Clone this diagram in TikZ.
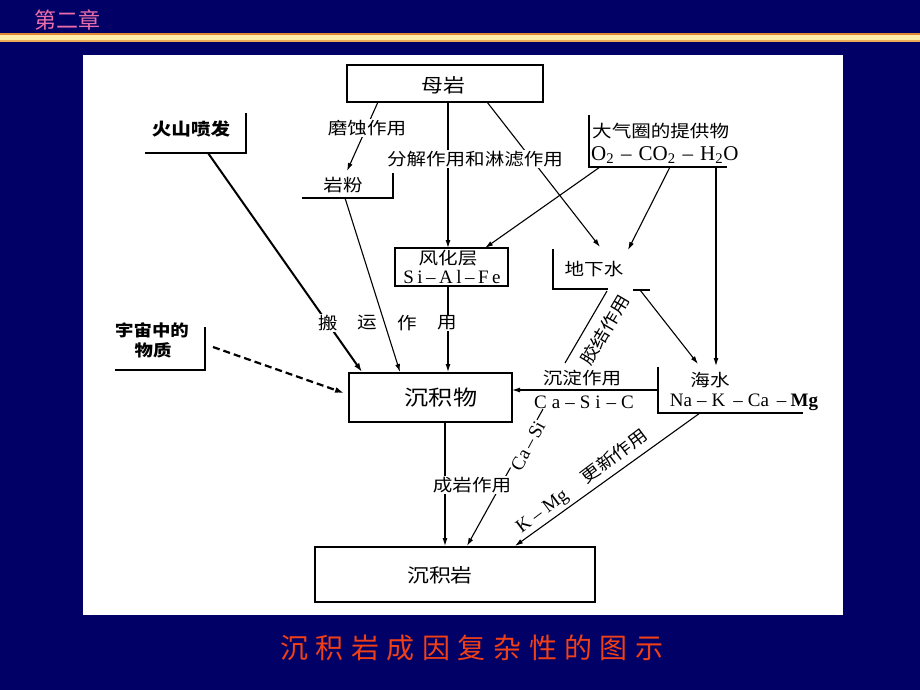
\documentclass[tikz,border=0pt]{standalone}
\usepackage{fontspec}
\setmainfont{Liberation Serif}
\newfontfamily\cjk[FakeStretch=1.15]{Noto Sans CJK SC}
\newfontfamily\cjkplain{Noto Sans CJK SC}
\usetikzlibrary{arrows.meta}
\newcommand\gp[1][5pt]{\hspace{#1}}
\definecolor{bgblue}{RGB}{0,0,102}
\definecolor{hdrpink}{RGB}{235,110,170}
\definecolor{ttlred}{RGB}{240,64,24}
\definecolor{goldA}{RGB}{222,138,52}
\definecolor{goldB}{RGB}{255,236,168}
\definecolor{goldC}{RGB}{236,172,88}
\begin{document}
\begin{tikzpicture}[x=1pt,y=-1pt,
  cn/.style={font=\cjk\fontsize{17}{17}\selectfont, inner sep=1pt},
  cnw/.style={cn, fill=white},
  cnb/.style={font=\cjk\bfseries\fontsize{17}{17}\selectfont, inner sep=1pt},
  lt/.style={font=\fontsize{19}{19}\selectfont, inner sep=0pt},
  box/.style={draw, line width=1.8pt, fill=white, inner sep=0pt},
  brk/.style={line width=1.4pt},
  arr/.style={line width=1.1pt, -{Latex[length=8pt,width=5pt]}},
  pl/.style={line width=1.1pt},
]
\useasboundingbox (0,0) rectangle (920,690);
\fill[bgblue] (0,0) rectangle (920,690);
\fill[goldA] (0,33) rectangle (920,35.5);
\fill[goldB] (0,35.5) rectangle (920,40);
\fill[goldC] (0,40) rectangle (920,42);
\node[font=\cjkplain\fontsize{22}{22}\selectfont, text=hdrpink, anchor=west, inner sep=0pt] (hdr) at (34,20) {第二章};
\fill[white] (83,55) rectangle (843,615);
\node[font=\cjkplain\fontsize{28}{28}\selectfont, text=ttlred, inner sep=0pt] (ttl) at (472,648)
  {沉\gp[7.5pt]积\gp[7.5pt]岩\gp[7.5pt]成\gp[7.5pt]因\gp[7.5pt]复\gp[7.5pt]杂\gp[7.5pt]性\gp[7.5pt]的\gp[7.5pt]图\gp[7.5pt]示};

% boxes
\node[box, minimum width=196pt, minimum height=37pt] (mu) at (445,83.5) {};
\node[box, minimum width=113pt, minimum height=38pt] (fh) at (451.5,267) {};
\node[box, minimum width=163pt, minimum height=49pt] (cjw) at (430.5,397.5) {};
\node[box, minimum width=280pt, minimum height=55pt] (cjy) at (455,574.5) {};

% named points
\coordinate (m1) at (378,102);
\coordinate (m2) at (448,102);
\coordinate (m3) at (487,102);
\coordinate (yf) at (347,171);
\coordinate (fhT) at (448,248);
\coordinate (fhR) at (485,248);
\coordinate (dx1) at (600,247);
\coordinate (dx2) at (628,250);
\coordinate (dq1) at (600,167);
\coordinate (dq2) at (670,167);
\coordinate (dq3) at (716,167);
\coordinate (hs1) at (716,366);
\coordinate (dxB) at (640,290);
\coordinate (hs2) at (698,364);
\coordinate (jj1) at (565,363);
\coordinate (jj2) at (607,291);
\coordinate (hsL) at (658,390);
\coordinate (cjwR) at (512,390);
\coordinate (hsB) at (700,413);
\coordinate (huo) at (208,153);
\coordinate (cjwT1) at (362,372);
\coordinate (yfB) at (345,198);
\coordinate (cjwT2) at (400,372);
\coordinate (fhB) at (448,286);
\coordinate (cjwT3) at (448,372);
\coordinate (yz) at (213,347);
\coordinate (cjwL) at (344,393);
\coordinate (cjwB) at (445,422);
\coordinate (cjyT1) at (445,546);
\coordinate (cs) at (543,409);
\coordinate (cjyT2) at (467,546);
\coordinate (cjyT3) at (515,546);

% brackets
\draw[brk] (246,113) -- (246,153) -- (145,153);
\draw[brk] (393,173) -- (393,198) -- (302,198);
\draw[brk] (589,115) -- (589,167) -- (727,167);
\draw[brk] (553,249) -- (553,289) -- (608,289);
\draw[brk] (633,290) -- (650,290);
\draw[brk] (658,367) -- (658,413) -- (803,413);
\draw[line width=2.4pt] (205,327) -- (205,370) -- (115,370);

% connectors
\draw[arr] (m1) -- (yf);
\draw[arr] (m2) -- (fhT);
\draw[arr] (m3) -- (dx1);
\draw[arr] (dq1) -- (fhR);
\draw[arr] (dq2) -- (dx2);
\draw[arr] (dq3) -- (hs1);
\draw[arr] (dxB) -- (hs2);
\draw[pl] (jj1) -- (jj2);
\draw[arr] (hsL) -- (cjwR);
\draw[line width=2pt, -{Latex[length=9pt,width=6pt]}] (huo) -- (cjwT1);
\draw[arr] (yfB) -- (cjwT2);
\draw[arr] (fhB) -- (cjwT3);
\draw[line width=2.2pt, dash pattern=on 7pt off 4pt, -{Latex[length=9pt,width=6pt]}] (yz) -- (cjwL);
\draw[arr] (cjwB) -- (cjyT1);
\draw[arr] (cs) -- (cjyT2);
\draw[arr] (hsB) -- (cjyT3);

% box texts
\node[font=\cjk\fontsize{19}{19}\selectfont, inner sep=0pt] (mut) at (443,85) {母岩};
\node[cn] (fht1) at (448,258) {风化层};
\node[lt] (fht2) at (452,277) {S\gp[3.5pt]i\gp[3.5pt]–\gp[3.5pt]A\gp[3.5pt]l\gp[3.5pt]–\gp[3.5pt]F\gp[3.5pt]e};
\node[font=\cjk\fontsize{21}{21}\selectfont, inner sep=0pt] (cjwt) at (441,398) {沉积物};
\node[font=\cjk\fontsize{19}{19}\selectfont, inner sep=0pt] (cjyt) at (440,575) {沉积岩};

% other texts
\node[cnb] (huot) at (191,129) {火山喷发};
\node[cn] (yft) at (343,185) {岩粉};
\node[cnw] (msz) at (367,128) {磨蚀作用};
\node[cnw] (fj) at (475,159) {分解作用和淋滤作用};
\node[cn, anchor=west] (dq) at (591,131) {大气圈的提供物};
\node[lt, anchor=west, font=\fontsize{21}{21}\selectfont] (dqf) at (591,155)
  {O\textsubscript{2}\gp[7pt]–\gp[7pt]CO\textsubscript{2}\gp[7pt]–\gp[7pt]H\textsubscript{2}O};
\node[cn] (dxs) at (594,269) {地下水};
\node[cn, rotate=59.5] (jjt) at (605,330) {胶结作用};
\node[cn] (hst) at (710,380) {海水};
\node[lt] (hsf) at (744,402) {Na\gp[5pt]–\gp[5pt]K\gp[8pt]–\gp[5pt]Ca\gp[8pt]–\gp[4pt]\textbf{Mg}};
\node[cn] (cdt) at (582,378) {沉淀作用};
\node[lt] (cdf) at (584,402) {C\gp a\gp –\gp S\gp i\gp[6pt]–\gp C};
\node[font=\cjk\bfseries\fontsize{16}{16}\selectfont, inner sep=0pt] (yz1) at (152,330) {宇宙中的};
\node[font=\cjk\bfseries\fontsize{16}{16}\selectfont, inner sep=0pt] (yz2) at (153,350) {物质};
\node[cnw] (b1) at (328,323) {搬};
\node[cnw] (b2) at (367,323) {运};
\node[cnw] (b3) at (407,323) {作};
\node[cnw] (b4) at (447,323) {用};
\node[cnw] (cyt) at (472,485) {成岩作用};
\node[lt, fill=white, inner sep=1pt, rotate=61.5] (csl) at (528,446) {Ca\gp[3pt]–\gp[3pt]Si};
\node[lt, rotate=37] (gxk) at (543,512) {K\gp[5pt]–\gp[5pt]Mg};
\node[cn, inner sep=0pt, rotate=37] (gxt) at (614,456) {更新作用};
\end{tikzpicture}
\end{document}
